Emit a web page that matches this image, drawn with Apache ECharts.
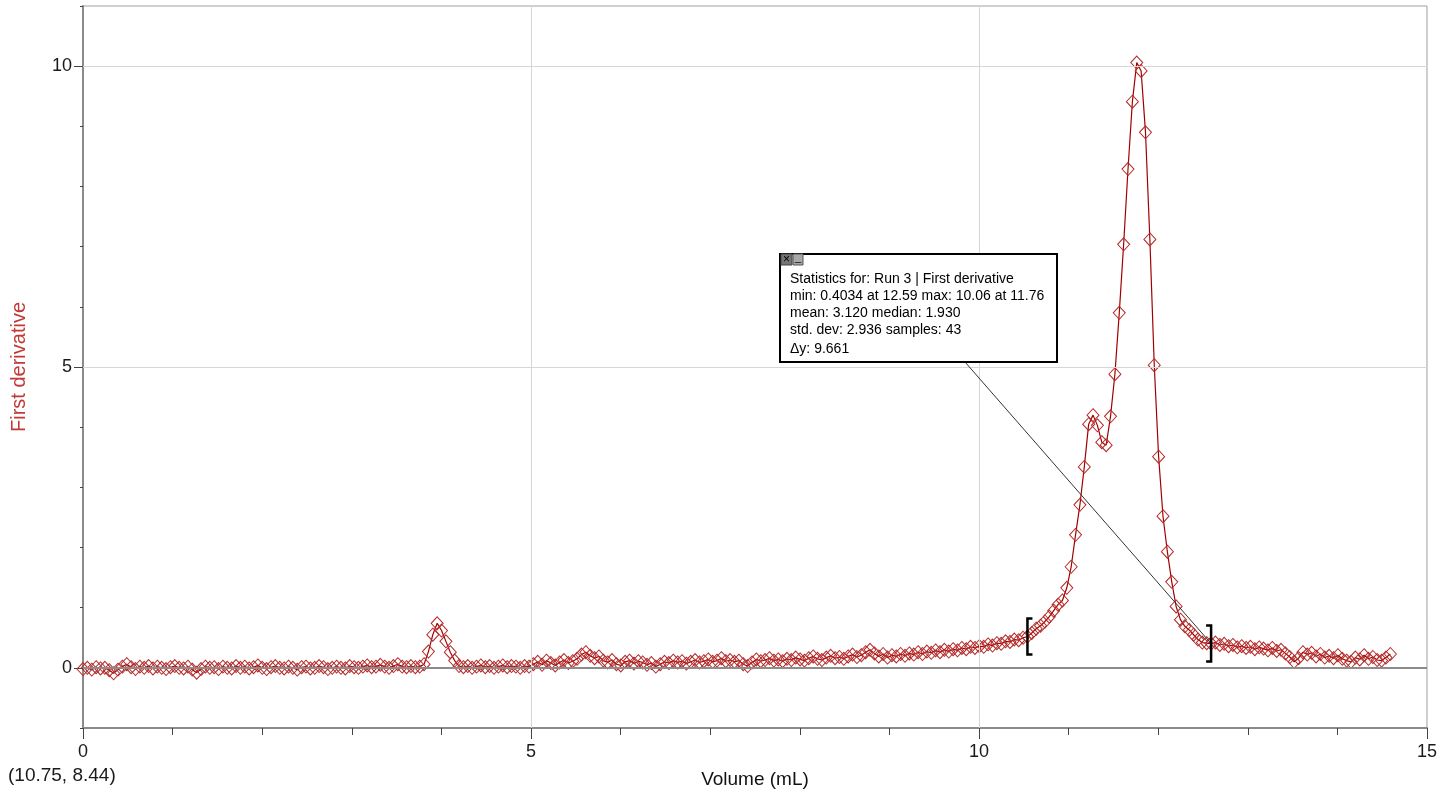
<!DOCTYPE html>
<html><head><meta charset="utf-8">
<script src="https://cdn.jsdelivr.net/npm/echarts@6/dist/echarts.min.js"></script>
<style>html,body{margin:0;padding:0;background:#fff}#c{width:1440px;height:795px}</style>
</head><body><div id="c"></div>
<script>
// sampling interval of the drop counter (mL per sample)
const volumeStep = 0.0488;
// first derivative value for each sample
const firstDerivative = [
 -0.02, 0.00, -0.03, 0.01, -0.01, 0.00, -0.04, -0.09, -0.03, 0.02,
 0.06, 0.01, -0.02, 0.02, 0.00, 0.03, -0.01, 0.02, 0.00, -0.02,
 0.01, 0.03, 0.00, -0.01, 0.02, -0.03, -0.08, -0.02, 0.02, 0.00,
 0.01, -0.02, 0.02, 0.00, -0.01, 0.03, 0.00, 0.02, -0.01, 0.01,
 0.04, 0.00, -0.02, 0.01, 0.03, 0.00, -0.01, 0.02, 0.00, -0.03,
 0.01, 0.02, -0.01, 0.00, 0.03, 0.01, -0.02, 0.00, 0.02, 0.00,
 -0.01, 0.03, 0.01, 0.00, 0.02, 0.04, 0.01, 0.02, 0.05, 0.02,
 0.00, 0.03, 0.06, 0.02, 0.01, 0.03, 0.01, 0.02, 0.06, 0.27,
 0.55, 0.74, 0.62, 0.44, 0.26, 0.12, 0.03, 0.01, 0.03, 0.00,
 0.02, 0.04, 0.01, 0.03, 0.00, 0.02, 0.04, 0.01, 0.03, 0.02,
 0.00, 0.03, 0.02, 0.06, 0.10, 0.05, 0.12, 0.08, 0.04, 0.09,
 0.13, 0.08, 0.11, 0.15, 0.22, 0.26, 0.20, 0.16, 0.19, 0.12,
 0.09, 0.13, 0.06, 0.04, 0.10, 0.12, 0.07, 0.11, 0.09, 0.05,
 0.08, 0.02, 0.06, 0.10, 0.08, 0.12, 0.09, 0.11, 0.07, 0.10,
 0.13, 0.09, 0.11, 0.14, 0.10, 0.12, 0.16, 0.11, 0.13, 0.10,
 0.12, 0.06, 0.03, 0.09, 0.14, 0.11, 0.13, 0.16, 0.12, 0.14,
 0.11, 0.15, 0.13, 0.17, 0.14, 0.12, 0.16, 0.19, 0.15, 0.13,
 0.17, 0.20, 0.16, 0.18, 0.15, 0.19, 0.22, 0.18, 0.21, 0.26,
 0.30, 0.24, 0.19, 0.23, 0.17, 0.21, 0.19, 0.23, 0.20, 0.24,
 0.22, 0.26, 0.23, 0.27, 0.25, 0.29, 0.26, 0.30, 0.27, 0.31,
 0.29, 0.33, 0.31, 0.35, 0.33, 0.36, 0.35, 0.39, 0.37, 0.41,
 0.40, 0.44, 0.43, 0.47, 0.46, 0.50,
 0.52, 0.58, 0.65, 0.70, 0.77, 0.85, 0.95, 1.05, 1.12, 1.33,
 1.68, 2.21, 2.71, 3.34, 4.05, 4.20, 4.03, 3.75, 3.70, 4.18,
 4.88, 5.90, 7.04, 8.29, 9.41, 10.06, 9.92, 8.90, 7.12, 5.03,
 3.51, 2.52, 1.93, 1.43, 1.02, 0.80, 0.69, 0.63, 0.55, 0.47,
 0.42, 0.41, 0.4034,
 0.42, 0.38, 0.40, 0.36, 0.38, 0.34, 0.36, 0.33, 0.35, 0.31,
 0.34, 0.32, 0.29, 0.33, 0.28, 0.30, 0.24, 0.18, 0.10, 0.16,
 0.26, 0.22, 0.25, 0.19, 0.23, 0.17, 0.20, 0.16, 0.21, 0.15,
 0.12, 0.10, 0.17, 0.14, 0.21, 0.15, 0.18, 0.13, 0.12, 0.17, 0.23
];
const yMajorValues = [0, 5, 10];
const xMajorGrid = [5, 10];
const statsLines = [
  'Statistics for: Run 3 | First derivative',
  'min: 0.4034 at 12.59 max: 10.06 at 11.76',
  'mean: 3.120 median: 1.930',
  'std. dev: 2.936 samples: 43',
  '\u0394y: 9.661'
];
const cursorReadout = '(10.75, 8.44)';
const selectionStartIndex = 216;
const selectionEndIndex = 258;

const seriesData = firstDerivative.map((v, i) => [Number((i * volumeStep).toFixed(4)), v]);
const FONT = 'Liberation Sans, Arial, sans-serif';

const chart = echarts.init(document.getElementById('c'), null, {renderer: 'canvas'});
const gridLines = yMajorValues.filter(v => v !== 0).map(v => ({yAxis: v, lineStyle: {color: '#d6d6d6', width: 1, type: 'solid'}}))
  .concat(xMajorGrid.map(v => ({xAxis: v, lineStyle: {color: '#d6d6d6', width: 1, type: 'solid'}})))
  .concat([{yAxis: 0, lineStyle: {color: '#8c8c8c', width: 2, type: 'solid'}}]);

chart.setOption({
  animation: false,
  backgroundColor: '#ffffff',
  grid: {left: 83, right: 12, top: 6, bottom: 67, show: true, borderColor: '#a0a0a0', borderWidth: 1, backgroundColor: '#fff'},
  xAxis: {
    type: 'value', min: 0, max: 15, interval: 5,
    axisLine: {onZero: false, lineStyle: {color: '#8a8a8a', width: 2}},
    axisTick: {length: 11, lineStyle: {color: '#444', width: 1}},
    minorTick: {show: true, splitNumber: 5, length: 7, lineStyle: {color: '#444', width: 1}},
    axisLabel: {fontSize: 18, color: '#1a1a1a', margin: 15, fontFamily: FONT},
    splitLine: {show: false},
    name: 'Volume (mL)', nameLocation: 'middle', nameGap: 42,
    nameTextStyle: {fontSize: 19, color: '#111', fontFamily: FONT}
  },
  yAxis: [{
    type: 'value', min: -1, max: 11, interval: 1,
    axisLine: {show: true, onZero: false, lineStyle: {color: '#8a8a8a', width: 2}},
    axisTick: {show: true, length: 3, lineStyle: {color: '#444', width: 1}},
    axisLabel: {fontSize: 18, color: '#1a1a1a', margin: 11, fontFamily: FONT,
      formatter: v => (yMajorValues.indexOf(v) >= 0 ? String(v) : '')},
    splitLine: {show: false},
    name: 'First derivative', nameLocation: 'middle', nameGap: 54, nameRotate: 90,
    nameTextStyle: {fontSize: 20, color: '#c03a3a', fontFamily: FONT}
  }, {
    type: 'value', min: -1, max: 11, position: 'left',
    axisLine: {show: false, onZero: false},
    axisTick: {show: true, length: 9, customValues: yMajorValues, lineStyle: {color: '#444', width: 1}},
    axisLabel: {show: false},
    splitLine: {show: false}
  }],
  series: [{
    type: 'line', name: 'grid', data: [[0, 0]], symbol: 'none', silent: true, z: 1,
    lineStyle: {opacity: 0},
    markLine: {silent: true, symbol: ['none', 'none'], label: {show: false}, animation: false, data: gridLines}
  }, {
    type: 'line', name: 'First derivative', data: seriesData, z: 3,
    symbol: 'diamond', symbolSize: [12, 13], showAllSymbol: true,
    itemStyle: {color: 'rgba(255,255,255,0)', borderColor: '#b52a2a', borderWidth: 1},
    lineStyle: {color: '#a00000', width: 1.2},
    emphasis: {disabled: true}
  }]
});

const pStart = chart.convertToPixel({gridIndex: 0}, seriesData[selectionStartIndex]);
const pEnd = chart.convertToPixel({gridIndex: 0}, seriesData[selectionEndIndex]);
const bh = 18, bw = 5;
const box = {x: 780, y: 254, w: 277, h: 108};
const elements = [
  {type: 'polyline', z: 50, shape: {points: [[pStart[0] + bw, pStart[1] - bh], [pStart[0], pStart[1] - bh], [pStart[0], pStart[1] + bh], [pStart[0] + bw, pStart[1] + bh]]},
   style: {stroke: '#000', lineWidth: 2.5, fill: null}},
  {type: 'polyline', z: 50, shape: {points: [[pEnd[0] - bw, pEnd[1] - bh], [pEnd[0], pEnd[1] - bh], [pEnd[0], pEnd[1] + bh], [pEnd[0] - bw, pEnd[1] + bh]]},
   style: {stroke: '#000', lineWidth: 2.5, fill: null}},
  {type: 'line', z: 49, shape: {x1: 965, y1: box.y + box.h, x2: pEnd[0], y2: pEnd[1]}, style: {stroke: '#333', lineWidth: 1}},
  {type: 'rect', z: 60, shape: {x: box.x, y: box.y, width: box.w, height: box.h}, style: {fill: '#fff', stroke: '#000', lineWidth: 2}},
  {type: 'rect', z: 61, shape: {x: 781, y: 254, width: 11, height: 11}, style: {fill: '#767676', stroke: '#444', lineWidth: 1}},
  {type: 'text', z: 62, x: 786.5, y: 259.5, style: {text: '\u00d7', fill: '#000', font: '12px ' + FONT, align: 'center', verticalAlign: 'middle'}},
  {type: 'rect', z: 61, shape: {x: 793, y: 254, width: 10, height: 11}, style: {fill: '#a8a8a8', stroke: '#555', lineWidth: 1}},
  {type: 'text', z: 62, x: 798, y: 258, style: {text: '_', fill: '#000', font: '11px ' + FONT, align: 'center', verticalAlign: 'middle'}},
  {type: 'text', z: 0, left: 8, top: 766, style: {text: cursorReadout, fill: '#1a1a1a', font: '19px ' + FONT}}
];
const lineYs = [279, 296, 313, 330, 349];
statsLines.forEach((t, i) => {
  elements.push({type: 'text', z: 62, x: 790, y: lineYs[i], style: {text: t, fill: '#000', font: (i === 4 ? '14px ' : '14px ') + FONT, verticalAlign: 'middle'}});
});
chart.setOption({graphic: {elements: elements}});
</script>
</body></html>
